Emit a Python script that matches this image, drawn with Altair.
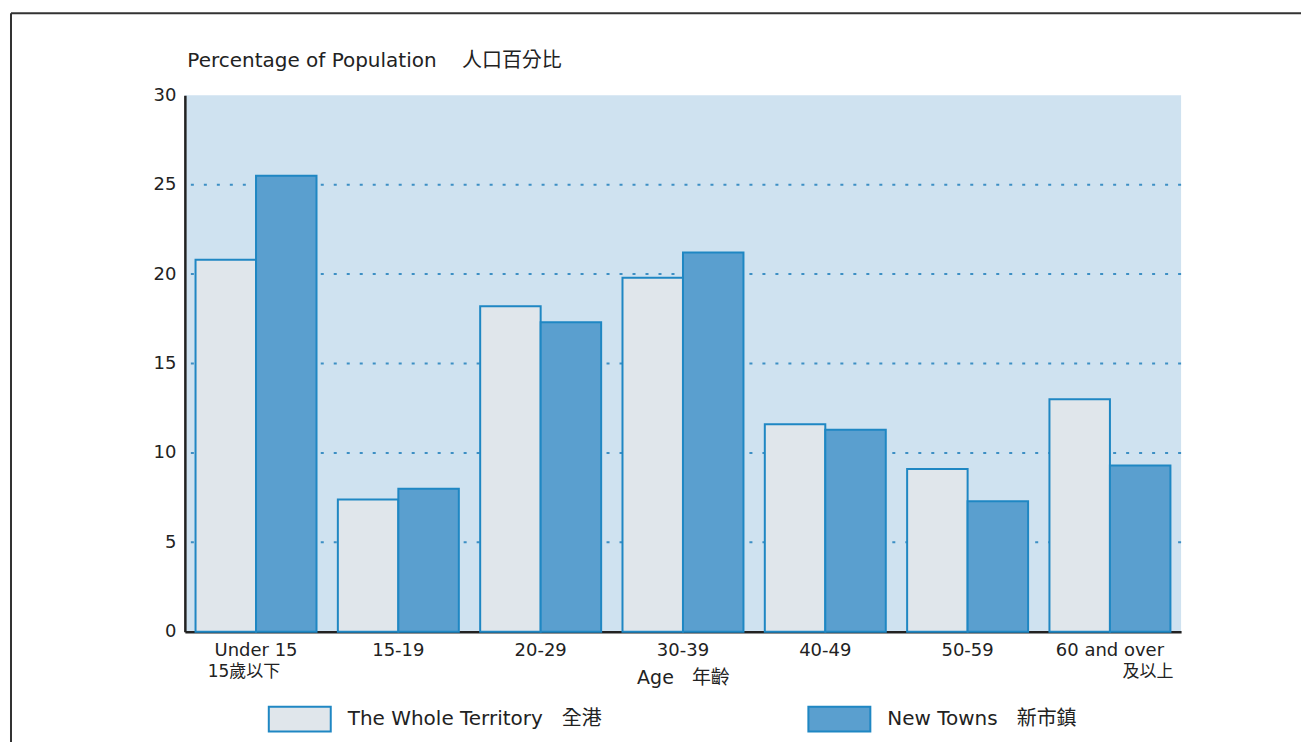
import altair as alt
import pandas as pd

NB = "\u00a0"
categories = ["Under 15", "15-19", "20-29", "30-39", "40-49", "50-59", "60 and over"]
whole_territory = [20.8, 7.4, 18.2, 19.8, 11.6, 9.1, 13.0]
new_towns = [25.5, 8.0, 17.3, 21.2, 11.3, 7.3, 9.3]
series_names = ["The Whole Territory" + NB * 3 + "全港", "New Towns" + NB * 3 + "新市鎮"]
sub_labels_left = {"Under 15": "15歲以下"}
sub_labels_right = {"60 and over": "及以上"}
grid_values = [5, 10, 15, 20, 25]

rows = []
for c, a, b in zip(categories, whole_territory, new_towns):
    rows.append({"age": c, "series": series_names[0], "pct": a})
    rows.append({"age": c, "series": series_names[1], "pct": b})
df = pd.DataFrame(rows)

FONT = "DejaVu Sans, Noto Sans CJK TC, sans-serif"
W, H = 997, 537
BLUE = "#1f87c3"
TXT = "#222"

xscale = alt.Scale(domain=categories, paddingInner=0.15, paddingOuter=0.075)
yscale = alt.Scale(domain=[0, 30], nice=False)

grid = alt.Chart(pd.DataFrame({"v": grid_values})).mark_rule(
    color="#3d8fc4", strokeWidth=2, strokeDash=[3, 10]
).encode(y=alt.Y("v:Q", scale=yscale))

bars = alt.Chart(df).mark_bar(stroke=BLUE, strokeWidth=2, opacity=1).encode(
    x=alt.X("age:N", scale=xscale, sort=categories,
            axis=alt.Axis(title="Age" + NB * 3 + "年齡", labelFontSize=18, labelFont=FONT,
                          labelColor=TXT, labelPadding=10, ticks=False,
                          domainColor=TXT, domainWidth=2.5,
                          titleFont=FONT, titleFontSize=19, titleFontWeight="normal",
                          titleColor=TXT, titleY=52, titleBaseline="alphabetic",
                          labelAngle=0)),
    xOffset=alt.XOffset("series:N", sort=series_names,
                        scale=alt.Scale(paddingInner=0, paddingOuter=0)),
    y=alt.Y("pct:Q", scale=yscale,
            axis=alt.Axis(values=[0, 5, 10, 15, 20, 25, 30], grid=False, ticks=False,
                          labelFontSize=18, labelFont=FONT, labelColor=TXT,
                          labelPadding=9, domainColor=TXT, domainWidth=2.5,
                          title="Percentage of Population" + NB * 4 + "人口百分比",
                          titleAngle=0, titleAlign="left", titleX=2, titleY=-29,
                          titleBaseline="alphabetic", titleFont=FONT,
                          titleFontSize=20, titleFontWeight="normal", titleColor=TXT)),
    color=alt.Color("series:N", sort=series_names,
                    scale=alt.Scale(domain=series_names, range=["#e0e6eb", "#5a9fcf"]),
                    legend=alt.Legend(title=None, orient="none", direction="horizontal",
                                      legendX=83, legendY=592,
                                      symbolType="M-1,-0.4H1V0.4H-1Z", symbolSize=3844,
                                      symbolStrokeColor=BLUE, symbolStrokeWidth=2,
                                      labelFont=FONT, labelFontSize=20, labelColor=TXT,
                                      labelOffset=16, columnPadding=202,
                                      labelLimit=500)),
)

sub_df = pd.DataFrame({
    "age": list(sub_labels_left.keys()) + list(sub_labels_right.keys()),
    "txt": list(sub_labels_left.values()) + list(sub_labels_right.values()),
    "side": ["l"] * len(sub_labels_left) + ["r"] * len(sub_labels_right),
})
sub_left = alt.Chart(sub_df).transform_filter("datum.side == 'l'").mark_text(
    font=FONT, fontSize=17, color=TXT, align="center", baseline="alphabetic", dx=-12
).encode(x=alt.X("age:N", scale=xscale, sort=categories), y=alt.value(H + 45), text="txt:N")
sub_right = alt.Chart(sub_df).transform_filter("datum.side == 'r'").mark_text(
    font=FONT, fontSize=17, color=TXT, align="center", baseline="alphabetic", dx=38
).encode(x=alt.X("age:N", scale=xscale, sort=categories), y=alt.value(H + 45), text="txt:N")

one = pd.DataFrame({"a": [0]})
frame_left = alt.Chart(one).mark_rule(color="#333", strokeWidth=2).encode(
    x=alt.value(-174), y=alt.value(-82), y2=alt.value(H + 120))
frame_top = alt.Chart(one).mark_rule(color="#333", strokeWidth=2).encode(
    x=alt.value(-174), x2=alt.value(W + 130), y=alt.value(-82))

chart = alt.layer(grid, bars, sub_left, sub_right, frame_left, frame_top).properties(
    width=W, height=H,
    autosize=alt.AutoSizeParams(type="none"),
    padding={"left": 177, "top": 87, "right": 120, "bottom": 110},
    background="white",
).configure_view(fill="#cfe2f0", stroke=None)

chart.save("out.html", embed_options={"renderer": "svg", "actions": False})
